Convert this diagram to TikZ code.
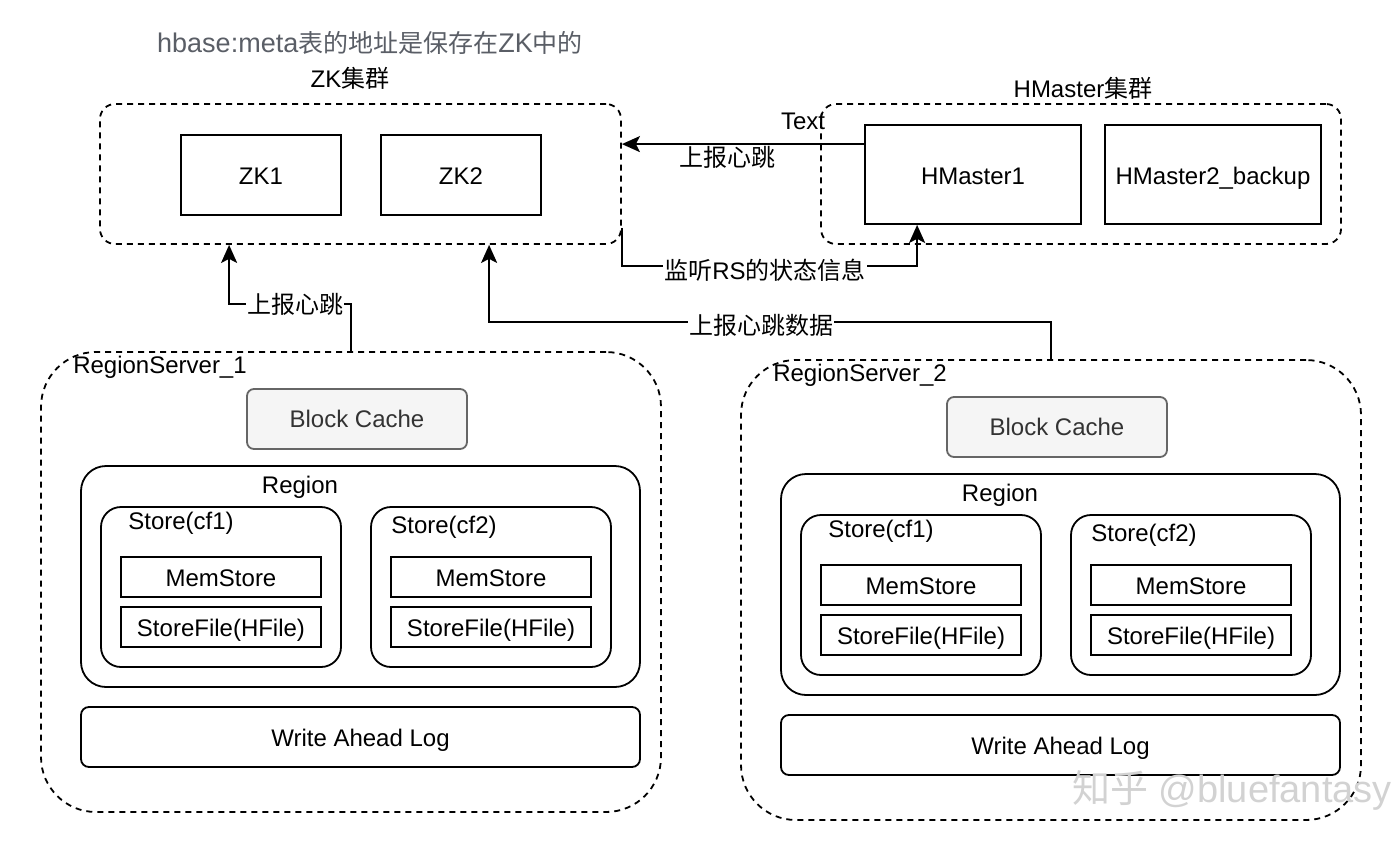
\documentclass[tikz,border=0pt]{standalone}
\usepackage{fontspec}
\setmainfont{Liberation Sans}
\newfontfamily\cjk{Noto Sans CJK SC}
\usetikzlibrary{arrows.meta,calc}
\definecolor{titlegray}{HTML}{5A5E66}
\definecolor{bcfill}{HTML}{F5F5F5}
\definecolor{bcdraw}{HTML}{666666}
\definecolor{bctext}{HTML}{333333}
\begin{document}
\begin{tikzpicture}[x=1pt,y=-1pt,
  txt/.style={font=\fontsize{24}{28}\selectfont, inner sep=0pt},
  cluster/.style={draw, line width=1.8pt, dash pattern=on 6pt off 5pt, rounded corners=15pt, minimum width=#1},
  box/.style={draw, line width=1.8pt, inner sep=0pt, font=\fontsize{24}{28}\selectfont, text height=19pt, text depth=0pt},
  rsbox/.style={draw, line width=1.8pt, dash pattern=on 6pt off 5pt, rounded corners=55pt, minimum width=620pt, minimum height=460pt},
  regbox/.style={draw, line width=1.8pt, rounded corners=25pt, minimum width=559pt, minimum height=221pt},
  storebox/.style={draw, line width=1.8pt, rounded corners=20pt, minimum width=240pt, minimum height=160pt},
  smallbox/.style={box, minimum width=200pt, minimum height=40pt},
  walbox/.style={box, rounded corners=8pt, minimum width=559pt, minimum height=60pt},
  bcbox/.style={box, rounded corners=7pt, fill=bcfill, draw=bcdraw, text=bctext, minimum width=220pt, minimum height=60pt, text height=17pt},
  arr/.style={line width=1.8pt, -{Stealth[length=18pt,width=16pt,inset=4pt]}},
  lbl/.style={font=\fontsize{24}{28}\selectfont, fill=white, inner sep=1pt},
  cjklbl/.style={lbl, font=\fontsize{24}{28}\selectfont\cjk}
]
\useasboundingbox (0,0) rectangle (1396,848);

% title and cluster labels
\node[inner sep=0pt, font=\fontsize{27}{31}\selectfont, text=titlegray] (title) at (370,43) {hbase:meta{\cjk\fontsize{25}{29}\selectfont 表的地址是保存在}ZK{\cjk\fontsize{25}{29}\selectfont 中的}};
\node[txt] (zklbl) at (350,78) {ZK{\cjk 集群}};
\node[txt] (hmlbl) at (1083,88) {HMaster{\cjk 集群}};

% ZK cluster
\node[cluster=521pt, minimum height=140pt] (zk) at (360.5,174) {};
\node[box, minimum width=160pt, minimum height=80pt] (zk1) at (261,175) {ZK1};
\node[box, minimum width=160pt, minimum height=80pt] (zk2) at (461,175) {ZK2};

% HMaster cluster
\node[cluster=520pt, minimum height=140pt] (hm) at (1081,174) {};
\node[txt] (textlbl) at (803,121) {Text};
\node[box, minimum width=216pt, minimum height=99pt] (hm1) at (973,174.5) {HMaster1};
\node[box, minimum width=216pt, minimum height=99pt] (hm2) at (1213,174.5) {HMaster2\_backup};

% RegionServer 1
\node[rsbox] (rs1) at (351,582) {};
\node[txt] (rs1lbl) at (160,367) {RegionServer\_1};
\node[bcbox] (bc1) at (357,419) {Block Cache};
\node[regbox] (reg1) at (360.5,576.5) {};
\node[txt] (reg1lbl) at (300,487) {Region};
\node[storebox] (st11) at (221,587) {};
\node[txt] (st11lbl) at (181,523) {Store(cf1)};
\node[smallbox] (ms11) at (221,577) {MemStore};
\node[smallbox] (sf11) at (221,627) {StoreFile(HFile)};
\node[storebox] (st12) at (491,587) {};
\node[txt] (st12lbl) at (444,527) {Store(cf2)};
\node[smallbox] (ms12) at (491,577) {MemStore};
\node[smallbox] (sf12) at (491,627) {StoreFile(HFile)};
\node[walbox] (wal1) at (360.5,737) {Write Ahead Log};

% RegionServer 2
\node[rsbox] (rs2) at (1051,590) {};
\node[txt] (rs2lbl) at (860,375) {RegionServer\_2};
\node[bcbox] (bc2) at (1057,427) {Block Cache};
\node[regbox] (reg2) at (1060.5,584.5) {};
\node[txt] (reg2lbl) at (1000,495) {Region};
\node[storebox] (st21) at (921,595) {};
\node[txt] (st21lbl) at (881,531) {Store(cf1)};
\node[smallbox] (ms21) at (921,585) {MemStore};
\node[smallbox] (sf21) at (921,635) {StoreFile(HFile)};
\node[storebox] (st22) at (1191,595) {};
\node[txt] (st22lbl) at (1144,535) {Store(cf2)};
\node[smallbox] (ms22) at (1191,585) {MemStore};
\node[smallbox] (sf22) at (1191,635) {StoreFile(HFile)};
\node[walbox] (wal2) at (1060.5,745) {Write Ahead Log};

% connectors
\coordinate (a1) at ($(hm1.north west)+(0,20)$);
\draw[arr] (a1) -- (a1 -| zk.east);
\node[cjklbl] (l1) at (727,157) {上报心跳};

\coordinate (b1) at ($(zk.south east)+(0,-17)$);
\coordinate (b2) at ($(hm1.south west)+(53,0)$);
\draw[arr] (b1) -- ($(b1)+(0,38)$) -| (b2);
\node[lbl] (l2) at (765,270) {{\cjk 监听}RS{\cjk 的状态信息}};

\coordinate (c1) at ($(zk.south west)+(130,0)$);
\draw[arr] (rs1.north) -- ($(rs1.north)+(0,-47)$) -| (c1);
\node[cjklbl] (l3) at (295,304) {上报心跳};

\coordinate (d1) at ($(zk.south west)+(390,0)$);
\draw[arr] (rs2.north) -- ($(rs2.north)+(0,-37)$) -| (d1);
\node[cjklbl] (l4) at (761,325) {上报心跳数据};

% watermark
\node[font=\fontsize{38}{44}\selectfont, text=gray!35, inner sep=0pt] (wm) at (1232,790) {{\cjk 知乎} @bluefantasy};
\end{tikzpicture}
\end{document}
